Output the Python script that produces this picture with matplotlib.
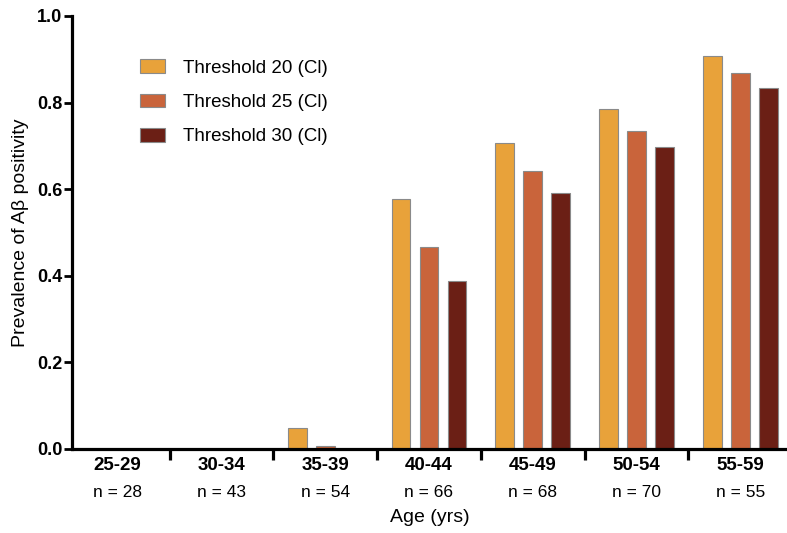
import numpy as np
import matplotlib.pyplot as plt
from matplotlib.transforms import blended_transform_factory

plt.rcParams['font.family'] = ['Liberation Sans', 'DejaVu Sans']

age_groups = ['25-29', '30-34', '35-39', '40-44', '45-49', '50-54', '55-59']
n_counts = [28, 43, 54, 66, 68, 70, 55]
thr20 = [0.0, 0.0, 0.048, 0.577, 0.707, 0.785, 0.908]
thr25 = [0.0, 0.0, 0.008, 0.467, 0.642, 0.734, 0.869]
thr30 = [0.0, 0.0, 0.0, 0.388, 0.591, 0.697, 0.834]
series_labels = ['Threshold 20 (Cl)', 'Threshold 25 (Cl)', 'Threshold 30 (Cl)']
colors = ['#E8A23A', '#C9643B', '#6B1F15']

fig = plt.figure(figsize=(7.87, 5.33), dpi=100)
ax = fig.add_axes([0.0915, 0.1576, 0.9085, 0.8124])

x = np.arange(len(age_groups))
width = 0.18
for off, vals, col, lab in zip([-0.27, 0, 0.27], [thr20, thr25, thr30], colors, series_labels):
    ax.bar(x + off, vals, width, color=col, edgecolor='#8a8a8a', linewidth=0.8, label=lab)

ax.set_xlim(-0.44, 6.45)
ax.set_ylim(0, 1.0)

for s in ['top', 'right']:
    ax.spines[s].set_visible(False)
for s in ['left', 'bottom']:
    ax.spines[s].set_linewidth(2.3)

ax.set_yticks([0, 0.2, 0.4, 0.6, 0.8, 1.0])
ax.set_yticklabels(['0.0', '0.2', '0.4', '0.6', '0.8', '1.0'], fontweight='bold', fontsize=13)
ax.tick_params(axis='y', length=6, width=2, pad=1)

ax.set_xticks(x)
ax.set_xticklabels(age_groups, fontweight='bold', fontsize=13.5)
ax.tick_params(axis='x', which='major', length=0, pad=6)
ax.set_xticks(x[:-1] + 0.5, minor=True)
ax.tick_params(axis='x', which='minor', length=8, width=2.3)

# sample sizes under each age group
trans = blended_transform_factory(ax.transData, ax.transAxes)
for xi, n in zip(x, n_counts):
    ax.annotate(f'n = {n}', xy=(xi, 0), xycoords=trans, xytext=(0, -31),
                textcoords='offset points', ha='center', va='center', fontsize=12.5)

ax.set_xlabel('Age (yrs)', fontsize=14, labelpad=25)
ax.set_ylabel('Prevalence of A\u03b2 positivity', fontsize=14, labelpad=6)

ax.legend(loc='upper left', bbox_to_anchor=(0.095, 0.9), frameon=False, fontsize=13.5,
          borderpad=0, borderaxespad=0,
          handlelength=1.33, handleheight=0.75, handletextpad=0.95, labelspacing=0.9)

fig.savefig('out.png', dpi=100)
